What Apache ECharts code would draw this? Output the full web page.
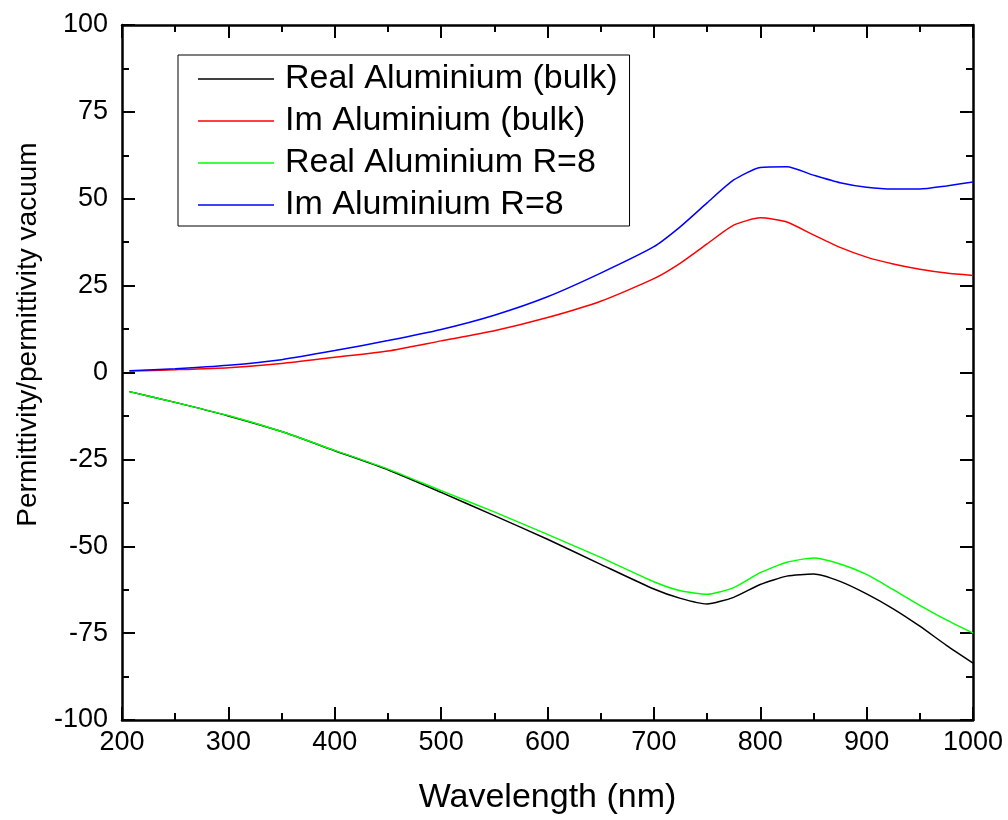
<!DOCTYPE html>
<html>
<head>
<meta charset="utf-8">
<script src="https://cdn.jsdelivr.net/npm/echarts@6/dist/echarts.min.js"></script>
<style>
  html, body {margin: 0; padding: 0; background: #fff;}
  #chart {width: 1008px; height: 820px;}
</style>
</head>
<body>
<div id="chart"></div>
<script>
// wavelength grid (nm)
var wavelength = [207, 250, 300, 350, 400, 450, 500, 550, 600, 650, 700, 725, 750, 775, 800, 825, 850, 875, 900, 925, 950, 975, 1000]

// values
var realBulk = [-5.5, -8.6, -12.5, -17.0, -22.5, -28.0, -34.5, -41.2, -48.0, -55.2, -62.3, -65.0, -66.6, -64.7, -61.0, -58.6, -58.0, -60.1, -63.7, -68.0, -73.0, -78.5, -83.6]
var imBulk = [0.4, 0.8, 1.4, 2.6, 4.4, 6.2, 9.1, 12.0, 15.8, 20.5, 27.0, 31.5, 37.0, 42.4, 44.5, 43.3, 39.6, 36.0, 33.2, 31.2, 29.7, 28.6, 27.9]
var realR8 = [-5.5, -8.6, -12.4, -17.0, -22.4, -27.8, -34.0, -40.1, -46.6, -53.2, -60.2, -62.8, -63.8, -61.9, -57.6, -54.6, -53.4, -55.1, -58.1, -62.5, -67.0, -71.2, -75.0]
var imR8 = [0.5, 1.1, 2.1, 3.7, 6.3, 9.2, 12.4, 16.5, 21.8, 28.6, 36.2, 42.0, 48.8, 55.4, 59.0, 59.2, 56.8, 54.6, 53.3, 52.8, 52.8, 53.7, 54.8]

var seriesNames = ['Real Aluminium (bulk)', 'Im Aluminium (bulk)', 'Real Aluminium R=8', 'Im Aluminium R=8']
var seriesColors = ['#000000', '#ff0000', '#00ff00', '#0000ff']

function pairs(ys) {
  return wavelength.map(function (x, i) { return [x, ys[i]] })
}

var font = '"Liberation Sans", Arial, sans-serif'
var axisLine = {show: true, onZero: false, lineStyle: {color: '#000', width: 2.5}}
var tick = {show: true, inside: true, length: 13, lineStyle: {color: '#000', width: 2}}
var minor = {show: true, splitNumber: 2, length: 7, lineStyle: {color: '#000', width: 2}}

var chart = echarts.init(document.getElementById('chart'))
window.addEventListener('resize', chart.resize)

var option = {
  animation: false,
  backgroundColor: '#fff',
  grid: {left: 122, right: 35, top: 25, bottom: 99},
  legend: {
    left: 178, top: 55,
    orient: 'vertical',
    data: seriesNames,
    icon: 'rect',
    itemWidth: 76, itemHeight: 1.5, itemGap: 0,
    padding: [3, 12, 0, 20],
    borderColor: '#000', borderWidth: 1,
    textStyle: {fontFamily: font, fontSize: 34, color: '#000', lineHeight: 42, padding: [0, 0, 0, 6]}
  },
  xAxis: [
    {type: 'value', position: 'bottom', min: 200, max: 1000, interval: 100,
      name: 'Wavelength (nm)', nameLocation: 'middle', nameGap: 61,
      nameTextStyle: {fontFamily: font, fontSize: 34, color: '#000'},
      axisLine: axisLine, axisTick: tick, minorTick: minor,
      axisLabel: {fontFamily: font, fontSize: 27, color: '#000', margin: 9, formatter: function (v) { return String(v) }},
      splitLine: {show: false}},
    {type: 'value', position: 'top', min: 200, max: 1000, interval: 100,
      axisLine: axisLine, axisTick: tick, minorTick: minor,
      axisLabel: {show: false}, splitLine: {show: false}}
  ],
  yAxis: [
    {type: 'value', position: 'left', min: -100, max: 100, interval: 25,
      name: 'Permittivity/permittivity vacuum', nameLocation: 'middle', nameGap: 80,
      nameTextStyle: {fontFamily: font, fontSize: 28, color: '#000', padding: [0, 0, 0, 76]},
      axisLine: axisLine, axisTick: tick, minorTick: minor,
      axisLabel: {fontFamily: font, fontSize: 27, color: '#000', margin: 14},
      splitLine: {show: false}},
    {type: 'value', position: 'right', min: -100, max: 100, interval: 25,
      axisLine: axisLine, axisTick: tick, minorTick: minor,
      axisLabel: {show: false}, splitLine: {show: false}}
  ],
  series: [
    {name: seriesNames[0], type: 'line', symbol: 'none', smooth: 0.2, color: seriesColors[0], lineStyle: {width: 1.5}, data: pairs(realBulk)},
    {name: seriesNames[1], type: 'line', symbol: 'none', smooth: 0.2, color: seriesColors[1], lineStyle: {width: 1.5}, data: pairs(imBulk)},
    {name: seriesNames[2], type: 'line', symbol: 'none', smooth: 0.2, color: seriesColors[2], lineStyle: {width: 1.5}, data: pairs(realR8)},
    {name: seriesNames[3], type: 'line', symbol: 'none', smooth: 0.2, color: seriesColors[3], lineStyle: {width: 1.5}, data: pairs(imR8)}
  ]
}
chart.setOption(option)
</script>
</body>
</html>
